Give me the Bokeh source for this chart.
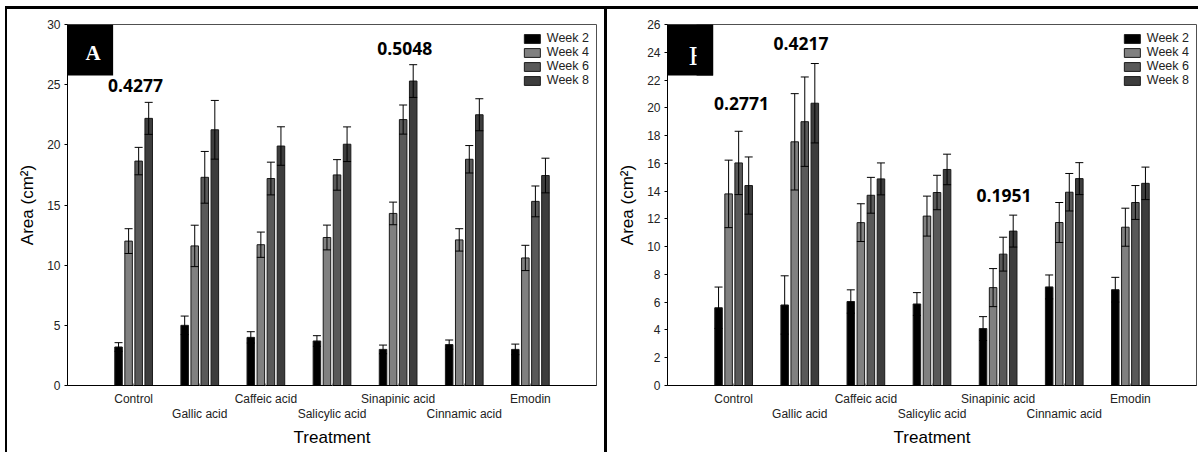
import numpy as np
from bokeh.plotting import figure
from bokeh.models import (Range1d, FixedTicker, LinearAxis, Legend, LegendItem,
                          Whisker, TeeHead, ColumnDataSource, BoxAnnotation, Label)
from bokeh.layouts import row
from bokeh.embed import file_html
from bokeh.resources import INLINE
from bokeh.core.properties import value

treatments = ["Control", "Gallic acid", "Caffeic acid", "Salicylic acid",
              "Sinapinic acid", "Cinnamic acid", "Emodin"]
weeks = ["Week 2", "Week 4", "Week 6", "Week 8"]
week_colors = ["#000000", "#808080", "#595959", "#3d3d3d"]

# Panel A
a_week2 = [3.2, 5.0, 4.0, 3.7, 3.0, 3.4, 3.0]
a_week2_err = [0.36, 0.77, 0.47, 0.44, 0.36, 0.38, 0.44]
a_week4 = [12.0, 11.6, 11.7, 12.3, 14.3, 12.1, 10.6]
a_week4_err = [1.03, 1.72, 1.05, 1.03, 0.94, 0.93, 1.05]
a_week6 = [18.65, 17.3, 17.2, 17.5, 22.1, 18.8, 15.3]
a_week6_err = [1.14, 2.15, 1.36, 1.27, 1.21, 1.14, 1.28]
a_week8 = [22.2, 21.25, 19.9, 20.05, 25.3, 22.5, 17.45]
a_week8_err = [1.33, 2.44, 1.6, 1.44, 1.36, 1.33, 1.44]
a_notes = ["0.4277", "0.5048"]
a_note_x = [1.03, 5.1]
a_note_y = [24.95, 28.0]

# Panel B
b_week2 = [5.6, 5.8, 6.05, 5.87, 4.1, 7.1, 6.9]
b_week2_err = [1.49, 2.1, 0.84, 0.82, 0.86, 0.86, 0.89]
b_week4 = [13.8, 17.55, 11.73, 12.2, 7.05, 11.74, 11.4]
b_week4_err = [2.43, 3.47, 1.36, 1.44, 1.37, 1.44, 1.37]
b_week6 = [16.03, 19.0, 13.7, 13.9, 9.46, 13.92, 13.18]
b_week6_err = [2.28, 3.22, 1.29, 1.24, 1.22, 1.35, 1.22]
b_week8 = [14.4, 20.33, 14.88, 15.56, 11.12, 14.9, 14.56]
b_week8_err = [2.06, 2.86, 1.15, 1.1, 1.15, 1.15, 1.17]
b_notes = ["0.2771", "0.4217", "0.1951"]
b_note_x = [1.12, 2.02, 5.09]
b_note_y = [20.3, 24.64, 13.7]

BAR_STEP = 0.152
BAR_W = 0.114
FONT = "Liberation Sans"


def make_panel(series, errors, ymax, ystep, letter, notes, note_x, note_y,
               width, min_left, min_right, css, letter_clip):
    p = figure(width=width, height=446, x_range=Range1d(0, 8), y_range=Range1d(0, ymax),
               min_border_left=min_left, min_border_right=min_right,
               min_border_top=15, min_border_bottom=70,
               output_backend="svg", toolbar_location=None, styles=css)
    p.xgrid.visible = False
    p.ygrid.visible = False
    p.outline_line_color = "#505050"
    p.outline_line_width = 1
    p.background_fill_color = "white"
    p.border_fill_color = "white"

    cats = np.arange(1, len(treatments) + 1)
    items = []
    for i, (vals, errs) in enumerate(zip(series, errors)):
        off = (i - 1.5) * BAR_STEP
        vals = np.array(vals)
        errs = np.array(errs)
        src = ColumnDataSource(dict(x=cats + off, top=vals,
                                    upper=vals + errs, lower=vals - errs))
        r = p.vbar(x="x", top="top", width=BAR_W, bottom=0, source=src,
                   fill_color=week_colors[i], line_color="#1a1a1a", line_width=1)
        items.append(LegendItem(label=weeks[i], renderers=[r]))
        w = Whisker(source=src, base="x", upper="upper", lower="lower",
                    line_color="black", line_width=1, level="annotation",
                    upper_head=TeeHead(size=8, line_color="black", line_width=1),
                    lower_head=TeeHead(size=8, line_color="black", line_width=1))
        p.add_layout(w)

    # y axis
    p.yaxis.ticker = FixedTicker(ticks=list(range(0, ymax + 1, ystep)))
    p.yaxis.minor_tick_line_color = None
    p.yaxis.major_tick_out = 3
    p.yaxis.major_tick_in = 0
    p.yaxis.major_label_standoff = 4
    p.yaxis.major_label_text_font = FONT
    p.yaxis.major_label_text_font_size = "12px"
    p.yaxis.major_label_text_color = "#222222"
    p.yaxis.axis_line_color = "black"
    p.yaxis.axis_label = "Area (cm²)"
    p.yaxis.axis_label_text_font = FONT
    p.yaxis.axis_label_text_font_size = "17px"
    p.yaxis.axis_label_text_font_style = "normal"
    p.yaxis.axis_label_text_color = "black"
    p.yaxis.axis_label_standoff = 7

    # x axis row 1 (odd categories)
    xa = p.xaxis[0]
    xa.ticker = FixedTicker(ticks=list(cats))
    xa.major_label_overrides = {int(c): (treatments[c - 1] if c % 2 == 1 else "") for c in cats}
    xa.minor_tick_line_color = None
    xa.major_tick_in = 2
    xa.major_tick_out = 0
    xa.major_tick_line_color = "#888888"
    xa.major_label_standoff = 6
    xa.major_label_text_font = FONT
    xa.major_label_text_font_size = "12px"
    xa.major_label_text_color = "#222222"
    xa.axis_line_color = "black"

    # x axis row 2 (even categories)
    even = [int(c) for c in cats if c % 2 == 0]
    xb = LinearAxis(ticker=FixedTicker(ticks=even),
                    major_label_overrides={c: treatments[c - 1] for c in even})
    xb.axis_line_color = None
    xb.major_tick_line_color = None
    xb.minor_tick_line_color = None
    xb.major_tick_out = 0
    xb.major_tick_in = 0
    xb.major_label_standoff = -2
    xb.major_label_text_font = FONT
    xb.major_label_text_font_size = "12px"
    xb.major_label_text_color = "#222222"
    xb.axis_label = "Treatment"
    xb.axis_label_text_font = FONT
    xb.axis_label_text_font_size = "17px"
    xb.axis_label_text_font_style = "normal"
    xb.axis_label_text_color = "black"
    xb.axis_label_standoff = 4
    p.add_layout(xb, "below")

    # p-value notes
    nsrc = ColumnDataSource(dict(x=note_x, y=note_y, t=notes))
    p.text(x="x", y="y", text="t", source=nsrc, text_font=value("Open Sans"),
           text_font_style="bold", text_font_size="17.5px", text_color="black",
           text_align="center", text_baseline="middle")

    # panel letter box
    box_h = ymax * 51 / 361.0
    p.add_layout(BoxAnnotation(left=0, right=0.69, top=ymax, bottom=ymax - box_h,
                               fill_color="black", fill_alpha=1, line_color=None))
    if letter_clip is None:
        p.add_layout(Label(x=0.387, y=ymax - box_h * 0.55, text=letter,
                           text_color="white", text_font="Liberation Serif",
                           text_font_size="21px", text_font_style="bold",
                           text_align="center", text_baseline="middle"))
    else:
        p.add_layout(Label(x=0.32, y=ymax - box_h * 0.6, text=letter,
                           text_color="white", text_font="Liberation Serif",
                           text_font_size="28px", text_font_style="normal",
                           text_align="left", text_baseline="middle"))
        p.add_layout(BoxAnnotation(left=letter_clip, right=0.69, top=ymax,
                                   bottom=ymax - box_h, fill_color="black",
                                   fill_alpha=1, line_color=None))

    legend = Legend(items=items, location="top_right")
    legend.background_fill_alpha = 0
    legend.border_line_color = None
    legend.label_text_font = FONT
    legend.label_text_font_size = "12.5px"
    legend.label_text_color = "#222222"
    legend.glyph_width = 20
    legend.glyph_height = 11
    legend.label_height = 11
    legend.spacing = 0
    legend.padding = 4
    legend.margin = 7
    legend.label_standoff = 5
    p.add_layout(legend)
    return p


p1 = make_panel([a_week2, a_week4, a_week6, a_week8],
                [a_week2_err, a_week4_err, a_week6_err, a_week8_err],
                30, 5, "A", a_notes, a_note_x, a_note_y, 599, 60, 10,
                {"border-left": "2px solid black", "border-top": "3px solid black",
                 "margin-left": "5px", "margin-top": "6px"},
                None)
p2 = make_panel([b_week2, b_week4, b_week6, b_week8],
                [b_week2_err, b_week4_err, b_week6_err, b_week8_err],
                26, 2, "B", b_notes, b_note_x, b_note_y, 594, 60, 5,
                {"border-left": "3px solid black", "border-top": "3px solid black",
                 "margin-top": "6px"},
                0.44)

layout = row(p1, p2)
open("out.html", "w").write(file_html(layout, INLINE))
